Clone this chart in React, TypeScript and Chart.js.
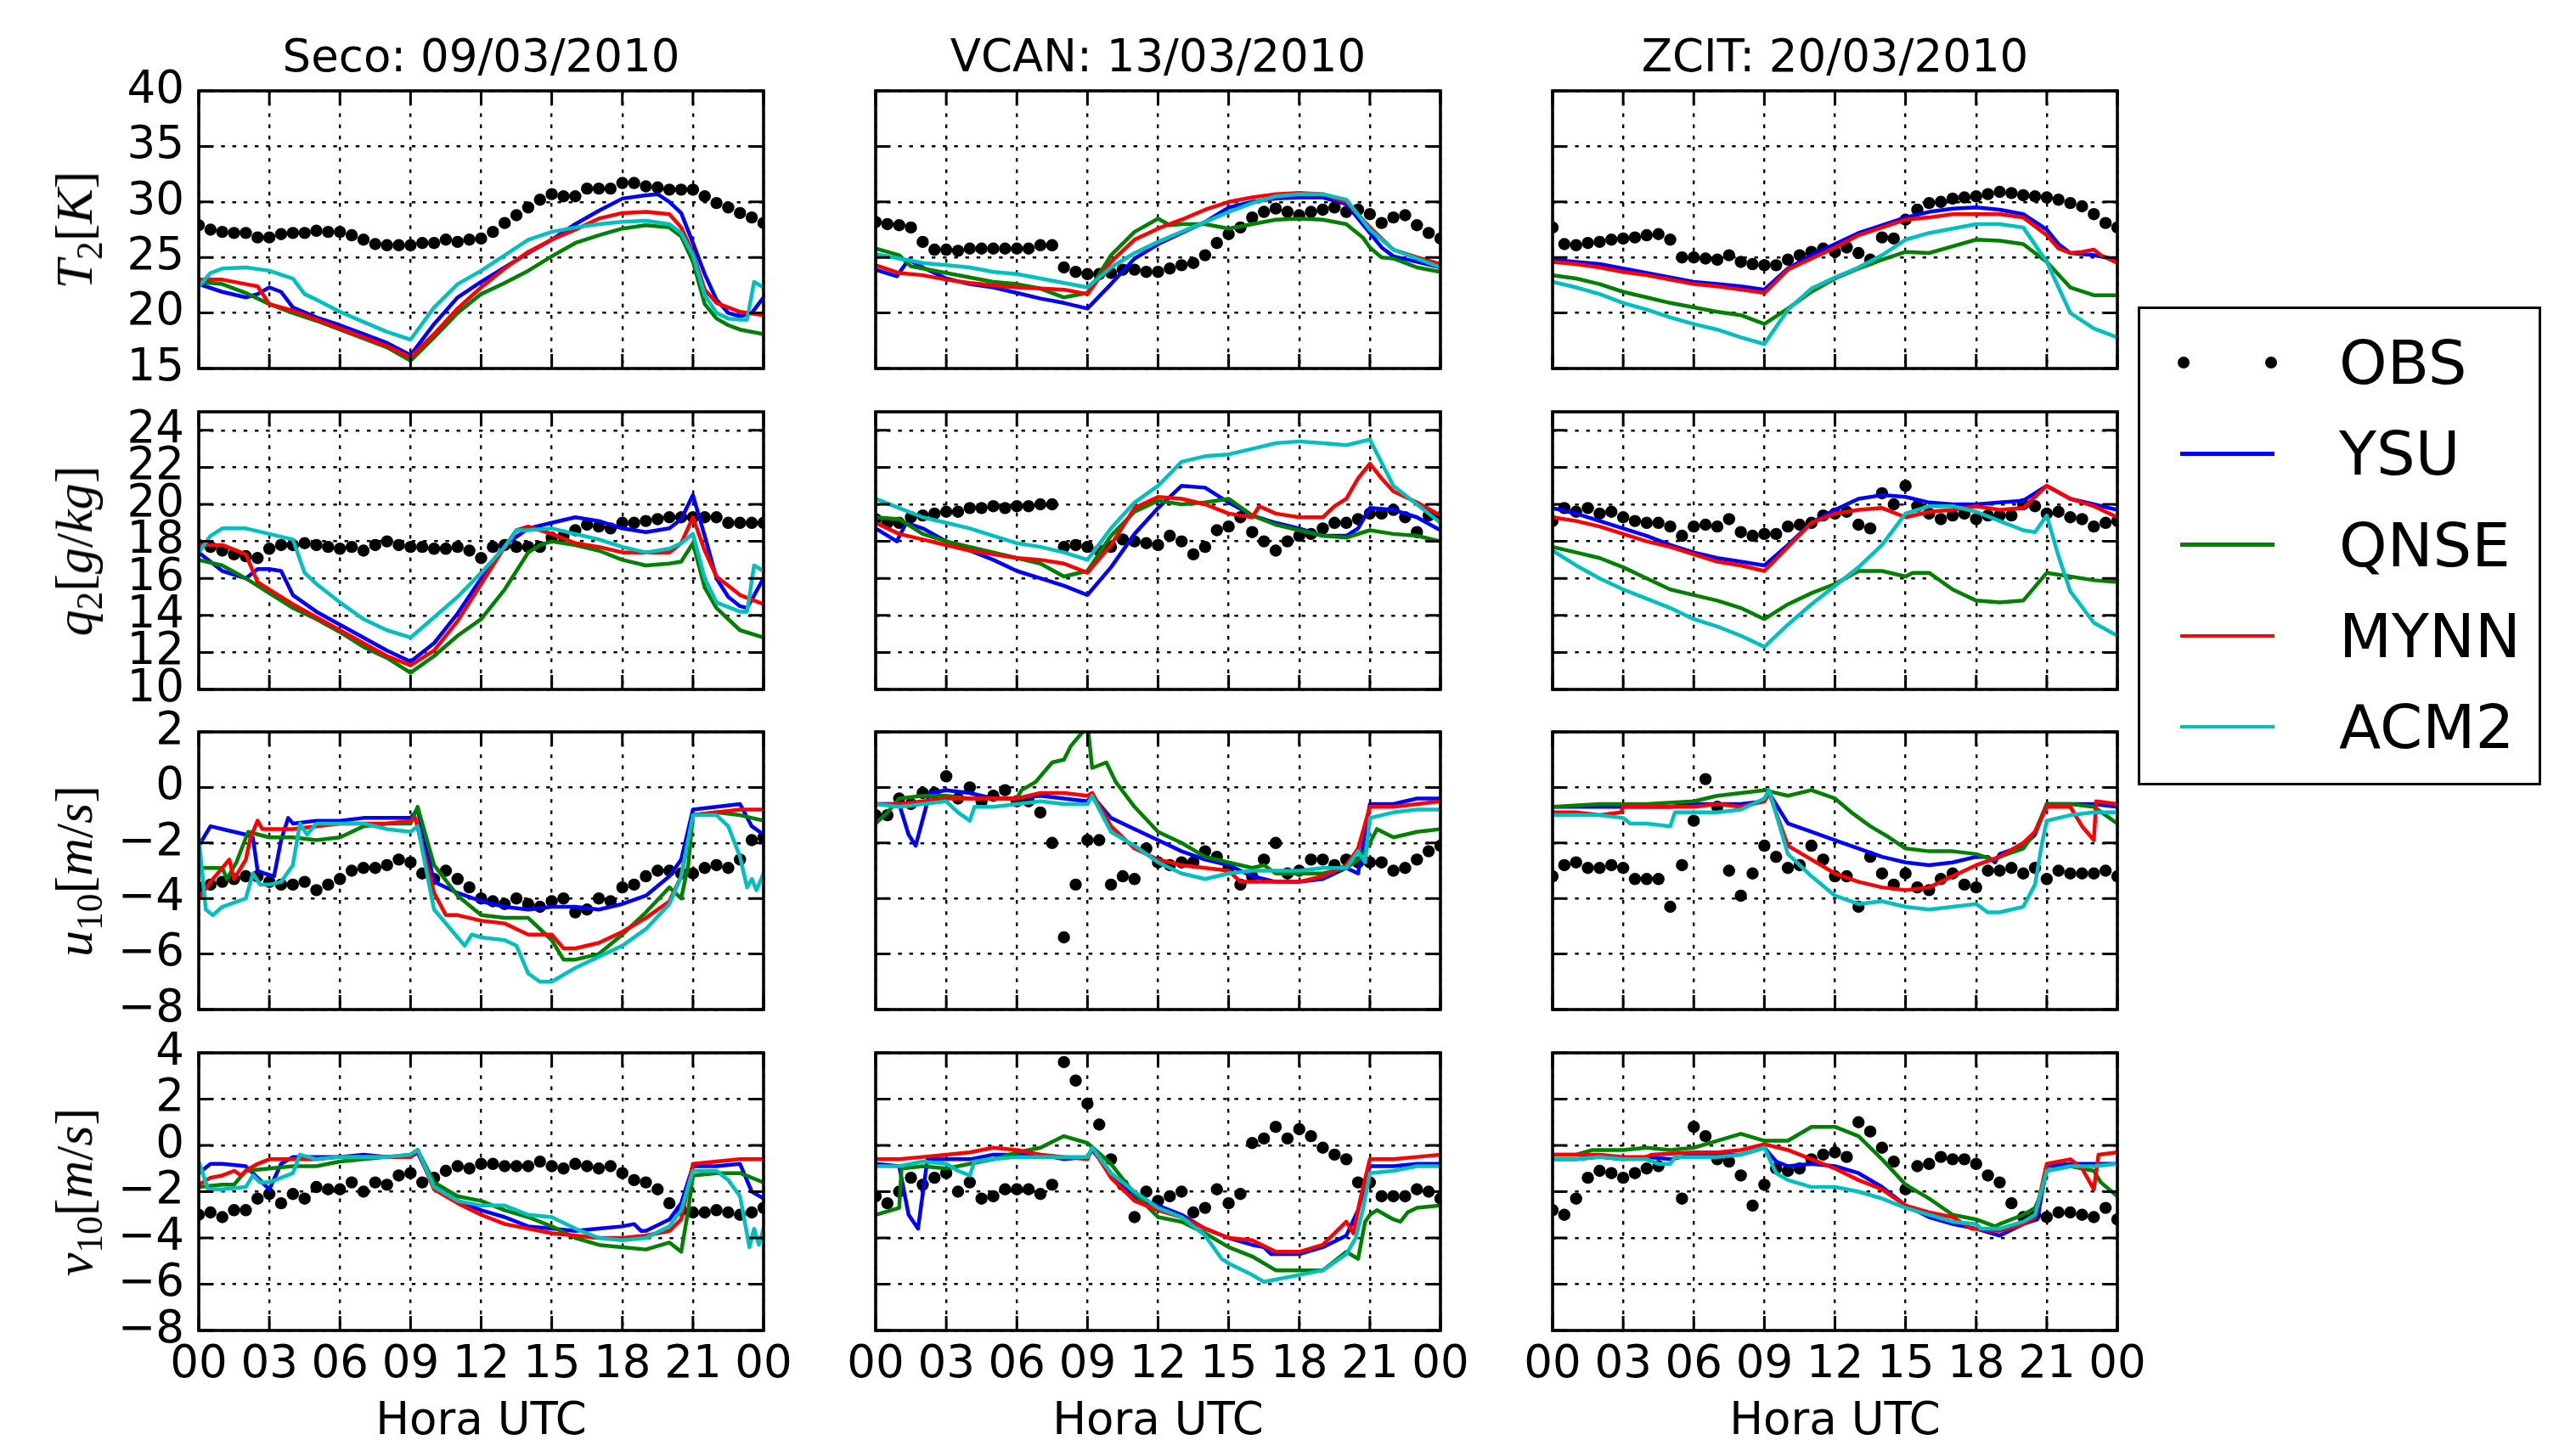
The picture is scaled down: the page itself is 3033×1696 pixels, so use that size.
import React, { useEffect, useRef } from "react";
import { Chart, registerables } from "chart.js";

Chart.register(...registerables);

// ---------------- data ----------------
const OBS_HOURS = [0,0.5,1,1.5,2,2.5,3,3.5,4,4.5,5,5.5,6,6.5,7,7.5,8,8.5,9,9.5,10,10.5,11,11.5,12,12.5,13,13.5,14,14.5,15,15.5,16,16.5,17,17.5,18,18.5,19,19.5,20,20.5,21,21.5,22,22.5,23,23.5,24];
const X_TICKS = [0,3,6,9,12,15,18,21,24];
const X_TICK_LABELS = ["00","03","06","09","12","15","18","21","00"];
const T2_TICKS = [15,20,25,30,35,40];
const Q2_TICKS = [10,12,14,16,18,20,22,24];
const U10_TICKS = [-8,-6,-4,-2,0,2];
const V10_TICKS = [-8,-6,-4,-2,0,2,4];
const CASE_TITLES = ["Seco: 09/03/2010","VCAN: 13/03/2010","ZCIT: 20/03/2010"];
const X_TITLE = "Hora UTC";
const SERIES_NAMES = ["OBS","YSU","QNSE","MYNN","ACM2"];
const SERIES_COLORS = ["#000000","#0000ff","#008000","#ff0000","#00bfbf"];
const VAR_SYMBOLS = ["T","q","u","v"];
const VAR_SUBS = ["2","2","10","10"];
const VAR_UNITS = ["K","g/kg","m/s","m/s"];

type Pair = [number, number];

// ---- T2 ----
const SECO_T2_OBS = [27.9,27.5,27.3,27.2,27.2,26.8,26.8,27.1,27.2,27.2,27.4,27.3,27.3,27.0,26.6,26.2,26.1,26.1,26.1,26.3,26.3,26.6,26.4,26.6,26.7,27.3,28.1,28.8,29.5,30.2,30.7,30.5,30.5,31.2,31.2,31.2,31.7,31.7,31.4,31.3,31.1,31.1,31.1,30.5,29.9,29.5,29.0,28.6,28.1];
const SECO_T2_YSU: Pair[] = [[0,22.6],[1,21.9],[2,21.4],[2.5,21.7],[3,22.3],[3.5,21.9],[4,20.5],[5,19.6],[6,18.9],[7,18.1],[8,17.3],[9,16.2],[10,19.0],[11,21.4],[12,22.8],[13,24.1],[14,25.4],[15,26.6],[16,28.0],[17,29.2],[18,30.3],[19,30.6],[19.5,30.7],[20,30.0],[20.5,29.0],[21,26.3],[21.5,23.5],[22,21.2],[22.5,20.0],[23,19.7],[23.5,20.0],[24,21.4]];
const SECO_T2_QNSE: Pair[] = [[0,22.8],[1,22.6],[2,21.8],[3,20.8],[4,20.0],[5,19.3],[6,18.5],[7,17.7],[8,16.9],[9,15.7],[10,17.8],[11,20.0],[12,21.7],[13,22.7],[14,23.8],[15,25.1],[16,26.3],[17,27.0],[18,27.6],[19,27.9],[20,27.7],[20.5,26.9],[21,24.6],[21.5,20.8],[22,19.5],[22.5,18.9],[23,18.5],[24,18.1]];
const SECO_T2_MYNN: Pair[] = [[0,23.0],[1,23.0],[2,22.6],[2.5,22.4],[3,20.8],[4,20.2],[5,19.4],[6,18.6],[7,17.8],[8,17.0],[9,16.0],[10,18.1],[11,20.4],[12,22.3],[13,24.0],[14,25.5],[15,26.6],[16,27.5],[17,28.5],[18,29.0],[19,29.1],[20,28.9],[20.5,27.7],[21,25.4],[21.5,22.1],[22,20.9],[22.5,20.5],[23,20.1],[24,19.8]];
const SECO_T2_ACM2: Pair[] = [[0,22.4],[0.5,23.6],[1,24.0],[2,24.1],[3,23.8],[4,23.1],[4.5,21.7],[5,21.2],[6,20.1],[7,19.2],[8,18.3],[9,17.6],[10,20.5],[11,22.6],[12,23.8],[13,25.2],[14,26.6],[15,27.3],[16,27.7],[17,28.0],[18,28.2],[19,28.3],[20,28.0],[20.5,27.2],[21,25.2],[21.5,21.6],[22,20.0],[22.5,19.5],[23,19.4],[23.3,19.4],[23.6,22.8],[24,22.3]];

const VCAN_T2_OBS = [28.2,28.0,27.9,27.7,26.4,25.7,25.7,25.6,25.8,25.8,25.8,25.8,25.8,25.8,26.1,26.1,24.1,23.7,23.5,23.5,23.6,23.9,23.9,23.7,23.7,24.0,24.3,24.5,25.2,26.3,27.1,27.7,28.6,29.1,29.4,29.1,28.8,29.1,29.3,29.5,29.1,29.3,28.9,28.1,28.6,28.8,27.9,27.2,26.7];
const VCAN_T2_YSU: Pair[] = [[0,23.9],[0.9,23.3],[1.4,24.8],[2,24.1],[3,23.1],[4,22.6],[5,22.3],[6,21.8],[7,21.3],[8,20.9],[9,20.4],[10,22.6],[11,24.9],[12,26.2],[13,27.2],[14,28.2],[15,29.5],[16,30.0],[17,30.3],[18,30.4],[19,30.4],[20,29.8],[21,27.2],[21.5,25.9],[22,25.1],[23,24.6],[24,24.1]];
const VCAN_T2_QNSE: Pair[] = [[0,25.8],[1,25.2],[1.5,24.2],[2,24.0],[3,23.6],[4,23.2],[5,22.8],[6,22.6],[7,22.2],[8,21.4],[9,21.8],[10,25.2],[11,27.3],[12,28.5],[12.5,27.9],[13,28.0],[14,28.0],[15,27.6],[16,28.0],[17,28.4],[18,28.5],[19,28.4],[20,28.0],[20.7,26.8],[21,25.9],[21.5,25.0],[22,24.9],[23,24.1],[24,23.7]];
const VCAN_T2_MYNN: Pair[] = [[0,24.3],[1,23.6],[2,23.4],[3,23.0],[4,22.7],[5,22.5],[6,22.3],[7,22.2],[8,22.1],[9,21.7],[10,24.6],[11,26.6],[12,27.6],[13,28.4],[14,29.3],[15,30.0],[16,30.4],[17,30.7],[18,30.8],[19,30.7],[20,30.0],[21,27.7],[22,25.7],[23,25.0],[24,24.4]];
const VCAN_T2_ACM2: Pair[] = [[0,25.3],[1,24.9],[2,24.5],[3,24.3],[4,24.1],[5,23.7],[6,23.5],[7,23.1],[8,22.7],[9,22.3],[10,24.1],[11,25.4],[12,26.4],[13,27.3],[14,28.2],[15,29.1],[16,29.9],[17,30.5],[18,30.7],[19,30.7],[20,30.2],[21,27.5],[22,25.7],[23,24.9],[24,24.1]];

const ZCIT_T2_OBS = [27.7,26.2,26.1,26.3,26.4,26.6,26.7,26.8,27.0,27.1,26.6,25.0,25.0,24.9,24.8,25.2,24.6,24.4,24.3,24.3,24.8,25.2,25.5,25.8,25.5,25.9,25.4,24.8,26.8,26.7,28.4,29.3,29.9,30.0,30.3,30.4,30.5,30.7,30.9,30.8,30.6,30.5,30.4,30.2,29.9,29.6,28.9,28.1,27.7];
const ZCIT_T2_YSU: Pair[] = [[0,24.8],[1,24.6],[2,24.4],[3,24.0],[4,23.6],[5,23.2],[6,22.8],[7,22.6],[8,22.4],[9,22.1],[10,24.0],[11,25.2],[12,26.2],[13,27.2],[14,27.9],[15,28.6],[16,29.1],[17,29.4],[18,29.5],[19,29.3],[20,28.9],[21,27.5],[21.5,26.2],[22,25.4],[23,25.2],[24,24.8]];
const ZCIT_T2_QNSE: Pair[] = [[0,23.4],[1,23.1],[2,22.6],[3,21.9],[4,21.4],[5,20.9],[6,20.5],[7,20.1],[8,19.8],[9,19.0],[10,20.4],[11,21.9],[12,23.1],[13,24.0],[14,24.8],[15,25.5],[16,25.4],[17,26.0],[18,26.6],[19,26.5],[20,26.2],[21,24.6],[22,22.3],[23,21.6],[24,21.6]];
const ZCIT_T2_MYNN: Pair[] = [[0,24.6],[1,24.4],[2,24.1],[3,23.7],[4,23.4],[5,23.0],[6,22.6],[7,22.4],[8,22.1],[9,21.8],[10,23.9],[11,24.9],[12,25.9],[13,27.0],[14,27.7],[15,28.4],[16,28.6],[17,28.9],[18,28.9],[19,28.9],[20,28.6],[21,27.0],[21.5,25.8],[22,25.4],[22.5,25.5],[23,25.7],[23.3,25.2],[24,24.5]];
const ZCIT_T2_ACM2: Pair[] = [[0,22.8],[1,22.3],[2,21.7],[3,20.9],[4,20.3],[5,19.6],[6,19.0],[7,18.5],[8,17.8],[9,17.2],[10,20.3],[11,22.2],[12,23.2],[13,24.1],[14,25.2],[15,26.6],[16,27.2],[17,27.6],[18,28.0],[19,28.0],[20,27.7],[21,24.6],[21.5,22.3],[22,20.0],[23,18.6],[24,17.8]];

// ---- q2 ----
const SECO_Q2_OBS = [17.8,17.7,17.5,17.3,17.2,17.1,17.6,17.8,17.8,17.9,17.8,17.7,17.6,17.7,17.5,17.8,18.0,17.8,17.7,17.7,17.6,17.6,17.7,17.5,17.1,17.7,17.8,17.7,17.7,17.7,18.2,18.3,18.6,18.9,18.8,18.7,19.0,19.0,19.1,19.2,19.3,19.3,19.3,19.3,19.3,19.0,19.0,19.0,19.0];
const SECO_Q2_YSU: Pair[] = [[0,17.4],[1,16.4],[2,16.0],[2.5,16.5],[3,16.5],[3.5,16.4],[4,15.1],[5,14.2],[6,13.5],[7,12.8],[8,12.1],[9,11.5],[10,12.5],[11,14.1],[12,16.0],[13,17.8],[14,18.7],[15,19.0],[16,19.3],[17,19.1],[18,18.7],[19,18.5],[20,18.7],[20.5,19.2],[21,20.5],[21.5,18.3],[22,16.0],[22.5,15.0],[23,14.5],[23.3,14.4],[24,16.0]];
const SECO_Q2_QNSE: Pair[] = [[0,17.0],[1,16.7],[2,16.0],[3,15.2],[4,14.4],[5,13.8],[6,13.1],[7,12.3],[8,11.7],[9,10.9],[10,11.8],[11,12.9],[12,13.8],[13,15.4],[14,17.4],[14.5,17.8],[15,18.0],[16,17.8],[17,17.5],[18,17.0],[19,16.7],[20,16.8],[20.5,16.9],[21,17.9],[21.5,15.5],[22,14.4],[23,13.2],[24,12.8]];
const SECO_Q2_MYNN: Pair[] = [[0,17.8],[1,17.8],[2,17.3],[2.5,15.8],[3,15.4],[4,14.6],[5,13.9],[6,13.2],[7,12.5],[8,11.8],[9,11.3],[10,12.1],[11,13.7],[12,15.7],[13,17.7],[13.5,18.6],[14,18.8],[15,18.4],[16,17.9],[17,17.7],[18,17.4],[19,17.4],[20,17.4],[20.5,17.9],[21,19.3],[21.5,17.5],[22,16.1],[23,15.1],[24,14.6]];
const SECO_Q2_ACM2: Pair[] = [[0,17.4],[0.5,18.3],[1,18.7],[2,18.7],[3,18.4],[4,18.1],[4.5,16.3],[5,15.7],[6,14.7],[7,13.8],[8,13.2],[9,12.8],[10,13.9],[11,15.0],[12,16.3],[13,17.7],[13.5,18.6],[14,18.6],[15,18.7],[16,18.4],[17,18.1],[18,17.7],[19,17.4],[20,17.6],[20.5,17.9],[21,18.4],[21.5,16.0],[22,14.7],[23,14.2],[23.3,14.2],[23.6,16.7],[24,16.4]];

const VCAN_Q2_OBS = [19.2,19.0,19.0,19.3,19.4,19.5,19.6,19.6,19.8,19.8,19.9,19.8,19.9,19.9,20.0,20.0,17.7,17.8,17.7,17.5,17.7,18.1,18.0,17.9,17.8,18.3,18.0,17.3,17.7,18.6,18.8,19.3,18.5,18.0,17.5,18.0,18.3,18.4,18.7,19.0,19.0,19.2,19.5,19.5,19.7,19.3,18.5,19.4,19.3];
const VCAN_Q2_YSU: Pair[] = [[0,18.7],[0.9,18.0],[1.3,19.0],[2,18.7],[3,18.0],[4,17.5],[5,17.0],[6,16.4],[7,16.0],[8,15.6],[9,15.1],[10,16.6],[11,18.4],[12,19.8],[13,21.0],[14,20.9],[15,20.1],[16,19.4],[17,19.0],[18,18.7],[19,18.3],[20,18.3],[20.5,18.7],[21,19.8],[22,19.7],[23,19.3],[24,18.6]];
const VCAN_Q2_QNSE: Pair[] = [[0,19.3],[1,19.2],[2,18.4],[3,18.0],[4,17.7],[5,17.4],[6,17.1],[7,16.8],[8,16.1],[9,16.4],[10,18.3],[11,19.6],[12,20.2],[13,20.0],[14,20.1],[15,20.3],[16,19.4],[17,18.9],[18,18.6],[19,18.3],[20,18.2],[21,18.6],[22,18.4],[23,18.3],[24,18.0]];
const VCAN_Q2_MYNN: Pair[] = [[0,19.0],[1,18.4],[2,18.1],[3,17.8],[4,17.5],[5,17.3],[6,17.1],[7,17.0],[8,16.8],[9,16.3],[10,17.8],[11,19.8],[12,20.4],[13,20.3],[14,20.0],[15,19.5],[16,19.3],[16.3,19.9],[17,19.5],[18,19.3],[19,19.3],[19.5,19.9],[20,20.3],[20.5,21.4],[21,22.2],[21.5,21.4],[22,20.7],[23,20.1],[24,19.4]];
const VCAN_Q2_ACM2: Pair[] = [[0,20.3],[1,19.8],[2,19.3],[3,19.0],[4,18.7],[5,18.3],[6,17.9],[7,17.7],[8,17.4],[9,17.0],[10,18.7],[11,20.1],[12,21.0],[13,22.3],[14,22.6],[15,22.7],[16,23.0],[17,23.3],[18,23.4],[19,23.3],[20,23.2],[21,23.5],[22,21.0],[23,20.0],[24,19.0]];

const ZCIT_Q2_OBS = [19.1,19.8,19.6,19.8,19.5,19.6,19.3,19.1,19.0,19.0,18.8,18.3,18.8,18.9,18.8,19.2,18.5,18.3,18.4,18.4,18.8,18.9,19.0,19.4,19.5,19.6,18.9,18.7,20.6,20.0,21.0,19.9,19.5,19.2,19.4,19.5,19.2,19.4,19.4,19.4,20.0,19.9,19.5,19.6,19.3,19.2,18.8,19.0,19.1];
const ZCIT_Q2_YSU: Pair[] = [[0,19.8],[1,19.5],[2,19.1],[3,18.7],[4,18.3],[5,17.8],[6,17.4],[7,17.1],[8,16.9],[9,16.7],[10,17.8],[11,19.0],[12,19.7],[13,20.3],[14,20.5],[15,20.4],[16,20.1],[17,20.0],[18,20.0],[19,20.1],[20,20.2],[21,21.0],[22,20.3],[23,20.0],[24,19.7]];
const ZCIT_Q2_QNSE: Pair[] = [[0,17.7],[1,17.4],[2,17.1],[3,16.6],[4,16.0],[5,15.4],[6,15.1],[7,14.8],[8,14.4],[9,13.8],[10,14.6],[11,15.2],[12,15.7],[13,16.4],[14,16.4],[15,16.1],[15.3,16.3],[16,16.3],[17,15.4],[18,14.8],[19,14.7],[20,14.8],[21,16.3],[22,16.1],[23,15.9],[24,15.8]];
const ZCIT_Q2_MYNN: Pair[] = [[0,19.3],[1,19.1],[2,18.8],[3,18.4],[4,18.0],[5,17.7],[6,17.3],[7,16.9],[8,16.7],[9,16.4],[10,17.7],[11,19.0],[12,19.5],[13,19.7],[14,19.8],[15,19.3],[16,19.6],[17,19.7],[18,19.9],[19,19.7],[20,19.8],[21,21.0],[22,20.3],[23,19.9],[24,19.3]];
const ZCIT_Q2_ACM2: Pair[] = [[0,17.5],[1,16.7],[2,16.0],[3,15.4],[4,14.9],[5,14.4],[6,13.8],[7,13.4],[8,12.9],[9,12.3],[10,13.5],[11,14.6],[12,15.6],[13,16.6],[14,17.8],[15,19.5],[16,19.9],[17,19.9],[18,19.6],[19,19.1],[20,18.6],[20.5,18.5],[21,19.4],[21.5,17.2],[22,15.3],[23,13.6],[24,12.9]];

// ---- u10 ----
const SECO_U10_OBS = [-3.6,-3.5,-3.4,-3.3,-3.2,-3.2,-3.4,-3.5,-3.5,-3.4,-3.7,-3.5,-3.3,-3.0,-2.9,-2.9,-2.8,-2.6,-2.7,-3.1,-3.3,-3.0,-3.3,-3.6,-4.0,-4.1,-4.2,-4.0,-4.2,-4.3,-4.1,-4.0,-4.5,-4.4,-4.0,-4.1,-3.6,-3.5,-3.2,-3.0,-3.0,-3.1,-3.1,-2.9,-2.8,-2.9,-2.6,-1.9,-1.8];
const SECO_U10_YSU: Pair[] = [[0,-2.1],[0.5,-1.4],[1,-1.5],[1.5,-1.6],[2,-1.7],[2.3,-1.8],[2.5,-3.0],[2.8,-3.1],[3.2,-3.2],[3.5,-1.9],[3.8,-1.1],[4,-1.3],[5,-1.2],[6,-1.2],[7,-1.1],[8,-1.1],[9,-1.1],[9.3,-0.8],[10,-3.4],[11,-3.8],[12,-4.1],[13,-4.3],[14,-4.4],[15,-4.3],[16,-4.3],[17,-4.4],[18,-4.2],[19,-3.9],[20,-3.2],[20.5,-2.6],[21,-0.8],[22,-0.7],[23,-0.6],[23.5,-1.4],[24,-1.7]];
const SECO_U10_QNSE: Pair[] = [[0,-2.9],[1,-2.9],[1.2,-3.3],[1.6,-2.7],[2.1,-1.6],[3,-1.8],[4,-1.8],[5,-1.9],[6,-1.8],[7,-1.4],[8,-1.3],[9,-1.3],[9.3,-0.7],[10,-2.8],[11,-3.9],[12,-4.6],[13,-4.7],[14,-4.7],[15,-5.5],[15.5,-6.2],[16,-6.2],[17,-6.0],[18,-5.3],[19,-4.5],[20,-3.6],[20.5,-4.0],[20.8,-2.8],[21,-1.0],[22,-0.9],[23,-1.0],[24,-1.2]];
const SECO_U10_MYNN: Pair[] = [[0,-4.0],[0.5,-3.4],[1,-2.9],[1.3,-2.6],[1.5,-3.3],[2,-2.6],[2.2,-1.8],[2.5,-1.2],[2.7,-1.5],[3,-1.5],[4,-1.5],[5,-1.4],[6,-1.3],[7,-1.3],[8,-1.3],[9,-1.2],[9.2,-1.1],[10,-3.8],[10.5,-4.6],[11,-4.6],[12,-4.8],[13,-4.9],[13.5,-5.1],[14,-5.3],[15,-5.3],[15.5,-5.8],[16,-5.8],[17,-5.6],[18,-5.2],[19,-4.7],[20,-4.1],[20.5,-3.2],[21,-1.0],[22,-0.9],[23,-0.8],[24,-0.8]];
const SECO_U10_ACM2: Pair[] = [[0,-1.8],[0.3,-4.4],[0.6,-4.6],[1,-4.3],[2,-4.0],[2.3,-3.1],[2.6,-3.5],[3,-3.5],[3.5,-3.4],[4,-2.8],[4.3,-1.3],[4.6,-1.7],[5,-1.3],[6,-1.3],[7,-1.3],[8,-1.5],[9,-1.6],[9.3,-1.4],[10,-4.4],[11,-5.4],[11.3,-5.7],[11.6,-5.3],[12,-5.4],[13,-5.5],[13.5,-5.7],[14,-6.7],[14.5,-7.0],[15,-7.0],[16,-6.5],[17,-6.1],[18,-5.7],[19,-5.1],[20,-4.2],[20.5,-3.2],[21,-1.0],[22,-1.0],[22.5,-1.4],[23,-2.5],[23.3,-3.6],[23.5,-3.3],[23.7,-3.7],[24,-3.1]];

const VCAN_U10_OBS = [-1.0,-1.0,-0.4,-0.6,-0.2,-0.2,0.4,-0.4,0.0,-0.5,-0.3,-0.1,-0.5,-0.5,-0.9,-2.0,-5.4,-3.5,-1.9,-1.9,-3.5,-3.2,-3.3,-2.2,-2.7,-2.8,-2.7,-2.7,-2.3,-2.5,-2.9,-3.5,-3.2,-2.6,-2.0,-3.1,-3.0,-2.6,-2.6,-2.8,-2.6,-2.7,-2.7,-2.7,-3.0,-2.9,-2.6,-2.3,-2.1];
const VCAN_U10_YSU: Pair[] = [[0,-0.6],[1,-0.6],[1.4,-1.7],[1.7,-2.1],[2.3,-0.2],[3,-0.1],[4,-0.2],[5,-0.4],[6,-0.4],[7,-0.3],[8,-0.4],[9,-0.5],[9.2,-0.3],[10,-1.1],[11,-1.5],[12,-1.9],[13,-2.3],[14,-2.6],[15,-2.8],[16,-3.2],[17,-3.4],[18,-3.4],[19,-3.3],[20,-2.9],[20.5,-3.1],[21,-0.6],[22,-0.6],[23,-0.4],[24,-0.4]];
const VCAN_U10_QNSE: Pair[] = [[0,-1.3],[0.5,-0.9],[1,-0.4],[2,-0.3],[3,-0.3],[4,-0.4],[5,-0.4],[6,-0.4],[6.2,-0.1],[6.8,0.2],[7.5,0.9],[8,1.0],[8.3,1.5],[8.8,2.0],[9.0,2.3],[9.2,0.7],[9.8,0.9],[10.2,0.2],[11,-0.7],[12,-1.6],[13,-2.0],[14,-2.5],[15,-2.7],[16,-2.9],[16.5,-2.8],[17,-3.1],[18,-3.1],[19,-3.1],[20,-2.9],[20.5,-2.6],[21,-2.0],[21.3,-1.5],[22,-1.8],[23,-1.6],[24,-1.5]];
const VCAN_U10_MYNN: Pair[] = [[0,-0.6],[1,-0.6],[2,-0.5],[3,-0.4],[4,-0.4],[5,-0.4],[6,-0.4],[7,-0.2],[8,-0.2],[9,-0.3],[9.2,-0.2],[10,-1.4],[11,-2.2],[12,-2.6],[13,-2.8],[14,-2.9],[15,-3.0],[15.5,-3.4],[16,-3.4],[17,-3.4],[18,-3.4],[19,-3.2],[20,-2.8],[20.5,-2.2],[21,-0.7],[22,-0.7],[23,-0.6],[24,-0.5]];
const VCAN_U10_ACM2: Pair[] = [[0,-0.6],[1,-0.7],[2,-0.6],[3,-0.5],[3.5,-0.9],[4,-1.2],[4.2,-0.7],[5,-0.7],[6,-0.6],[7,-0.5],[8,-0.6],[9,-0.6],[9.2,-0.3],[10,-1.6],[11,-2.1],[12,-2.7],[13,-3.1],[14,-3.3],[15,-3.1],[16,-3.0],[17,-3.0],[18,-3.0],[19,-2.9],[20,-2.9],[20.5,-2.3],[20.8,-2.7],[21,-1.1],[22,-0.9],[23,-0.8],[24,-0.8]];

const ZCIT_U10_OBS = [-3.2,-2.8,-2.7,-2.9,-2.9,-2.8,-2.9,-3.3,-3.3,-3.3,-4.3,-2.8,-1.2,0.3,-0.7,-3.0,-3.9,-3.1,-2.1,-2.5,-2.9,-2.8,-2.1,-2.6,-3.2,-3.2,-4.3,-2.5,-3.1,-3.5,-3.1,-3.6,-3.7,-3.3,-3.1,-3.5,-3.6,-3.0,-3.0,-2.9,-3.1,-2.9,-3.3,-3.0,-3.1,-3.1,-3.1,-3.0,-3.2];
const ZCIT_U10_YSU: Pair[] = [[0,-0.7],[1,-0.7],[2,-0.7],[3,-0.7],[4,-0.7],[5,-0.7],[6,-0.6],[7,-0.6],[8,-0.6],[9,-0.5],[9.2,-0.2],[10,-1.3],[11,-1.6],[12,-1.9],[13,-2.2],[14,-2.5],[15,-2.7],[16,-2.8],[17,-2.7],[18,-2.5],[18.5,-2.5],[18.8,-2.7],[19,-2.4],[20,-2.1],[20.5,-1.7],[21,-0.6],[22,-0.6],[23,-0.6],[24,-0.7]];
const ZCIT_U10_QNSE: Pair[] = [[0,-0.7],[2,-0.6],[4,-0.6],[6,-0.5],[7,-0.3],[8,-0.2],[9,-0.1],[10,-0.3],[11,-0.1],[12,-0.4],[12.7,-0.9],[13.5,-1.4],[14.3,-1.8],[15,-2.2],[16,-2.3],[17,-2.3],[18,-2.4],[18.7,-2.6],[19,-2.5],[20,-2.2],[20.5,-1.6],[21,-0.6],[22,-0.6],[23,-0.7],[23.5,-1.0],[24,-1.3]];
const ZCIT_U10_MYNN: Pair[] = [[0,-0.9],[1,-0.9],[2,-1.0],[2.9,-0.9],[3,-0.7],[4,-0.7],[5,-0.7],[6,-0.7],[7,-0.6],[8,-0.7],[9,-0.5],[9.2,-0.2],[10,-2.1],[11,-2.6],[12,-3.1],[13,-3.4],[14,-3.6],[15,-3.7],[16,-3.6],[17,-3.2],[18,-2.8],[19,-2.5],[20,-2.0],[20.5,-1.6],[21,-0.7],[22,-0.7],[22.5,-1.4],[23,-1.9],[23.1,-0.5],[24,-0.6]];
const ZCIT_U10_ACM2: Pair[] = [[0,-1.0],[1,-1.0],[2,-1.0],[3,-1.1],[3.3,-1.3],[4,-1.3],[5,-1.4],[5.2,-0.9],[6,-0.9],[7,-0.9],[8,-0.8],[9,-0.4],[9.2,-0.1],[10,-2.4],[10.5,-2.8],[11,-3.2],[12,-3.9],[13,-4.2],[14,-4.1],[15,-4.3],[16,-4.4],[17,-4.3],[18,-4.2],[18.5,-4.5],[19,-4.5],[20,-4.3],[20.5,-3.5],[20.8,-2.0],[21,-1.2],[22,-1.0],[23,-0.9],[24,-0.9]];

// ---- v10 ----
const SECO_V10_OBS = [-3.0,-2.9,-3.1,-2.8,-2.8,-2.3,-2.1,-2.5,-2.1,-2.3,-1.8,-1.9,-1.9,-1.6,-2.0,-1.6,-1.7,-1.3,-1.2,-1.6,-1.4,-1.1,-0.9,-1.0,-0.8,-0.8,-0.9,-0.9,-0.9,-0.7,-0.9,-1.0,-0.8,-0.9,-1.0,-0.9,-1.2,-1.5,-1.6,-1.9,-2.5,-2.8,-2.9,-2.9,-2.8,-2.9,-3.0,-2.9,-2.7];
const SECO_V10_YSU: Pair[] = [[0,-1.2],[0.5,-0.8],[1,-0.8],[2,-0.9],[2.5,-1.4],[3,-1.9],[3.5,-0.8],[4,-0.5],[5,-0.5],[6,-0.5],[7,-0.4],[8,-0.5],[9,-0.5],[9.3,-0.3],[10,-1.8],[11,-2.4],[12,-2.8],[13,-3.1],[14,-3.5],[15,-3.6],[16,-3.7],[17,-3.6],[18,-3.5],[18.5,-3.4],[18.8,-3.7],[19,-3.7],[20,-3.2],[20.5,-2.5],[21,-0.9],[22,-0.9],[23,-0.8],[23.5,-2.0],[24,-2.3]];
const SECO_V10_QNSE: Pair[] = [[0,-1.8],[1,-1.7],[1.5,-1.7],[2,-1.1],[3,-1.0],[4,-0.9],[5,-0.9],[6,-0.7],[7,-0.6],[8,-0.5],[9,-0.4],[9.3,-0.2],[10,-1.6],[11,-2.2],[12,-2.4],[13,-2.8],[14,-3.1],[15,-3.5],[16,-4.0],[17,-4.3],[18,-4.4],[19,-4.5],[20,-4.2],[20.5,-4.6],[20.8,-2.8],[21,-1.3],[22,-1.2],[23,-1.2],[24,-1.6]];
const SECO_V10_MYNN: Pair[] = [[0,-1.7],[0.5,-1.4],[1,-1.3],[1.5,-1.1],[1.8,-1.3],[2,-1.1],[2.5,-0.8],[3,-0.6],[4,-0.6],[5,-0.6],[6,-0.5],[7,-0.5],[8,-0.5],[9,-0.5],[9.3,-0.2],[10,-1.9],[11,-2.5],[12,-3.0],[13,-3.4],[14,-3.6],[15,-3.8],[16,-3.9],[17,-4.0],[18,-4.0],[19,-3.9],[20,-3.7],[20.5,-3.2],[21,-0.8],[22,-0.7],[23,-0.6],[24,-0.6]];
const SECO_V10_ACM2: Pair[] = [[0,-0.7],[0.4,-1.9],[1,-1.9],[2,-1.8],[2.3,-1.3],[2.6,-1.6],[3,-1.6],[4,-1.2],[4.3,-0.4],[5,-0.6],[6,-0.5],[7,-0.5],[8,-0.5],[9,-0.4],[9.3,-0.2],[10,-1.8],[11,-2.4],[12,-2.6],[13,-2.6],[14,-3.0],[15,-3.1],[16,-3.6],[17,-4.0],[18,-4.1],[19,-4.0],[20,-3.5],[20.5,-2.8],[21,-1.1],[22,-1.1],[22.5,-1.5],[23,-2.2],[23.4,-4.4],[23.6,-3.6],[23.8,-4.3],[24,-3.6]];

const VCAN_V10_OBS = [-2.2,-2.5,-2.0,-1.4,-1.7,-1.4,-1.2,-2.0,-1.6,-2.3,-2.2,-1.9,-1.9,-1.9,-2.1,-1.7,3.6,2.8,1.8,0.9,-0.6,-1.7,-3.1,-2.0,-2.4,-2.2,-2.0,-2.9,-2.7,-1.9,-2.5,-2.1,0.1,0.3,0.8,0.3,0.7,0.4,-0.1,-0.4,-0.6,-1.6,-1.6,-2.2,-2.2,-2.2,-1.9,-2.0,-2.3];
const VCAN_V10_YSU: Pair[] = [[0,-0.8],[1,-0.9],[1.4,-3.0],[1.8,-3.6],[2.2,-0.6],[3,-0.6],[4,-0.6],[5,-0.4],[6,-0.4],[7,-0.4],[8,-0.6],[9,-0.5],[9.2,-0.2],[10,-1.2],[11,-2.3],[12,-2.6],[13,-3.0],[14,-3.6],[15,-4.0],[16,-4.3],[16.5,-4.4],[16.8,-4.7],[18,-4.7],[19,-4.4],[20,-3.9],[20.5,-2.8],[21,-0.9],[22,-0.9],[23,-0.8],[24,-0.8]];
const VCAN_V10_QNSE: Pair[] = [[0,-3.0],[1,-2.7],[1.1,-1.0],[2,-0.9],[3,-1.0],[4,-0.8],[5,-0.6],[6,-0.3],[7,-0.1],[8,0.4],[9,0.1],[10,-0.8],[11,-2.1],[12,-3.1],[13,-3.3],[14,-3.8],[15,-4.4],[16,-4.8],[17,-5.4],[18,-5.4],[19,-5.4],[20,-4.6],[20.5,-4.9],[20.8,-3.3],[21,-3.0],[21.3,-2.8],[22,-3.2],[22.3,-3.3],[22.6,-2.9],[23,-2.7],[24,-2.6]];
const VCAN_V10_MYNN: Pair[] = [[0,-0.6],[1,-0.6],[2,-0.5],[3,-0.4],[4,-0.3],[5,-0.1],[6,-0.2],[7,-0.4],[8,-0.5],[9,-0.6],[9.2,-0.1],[10,-1.4],[11,-2.4],[12,-2.8],[13,-3.1],[14,-3.6],[15,-4.0],[16,-4.1],[17,-4.6],[18,-4.6],[19,-4.3],[20,-3.3],[20.3,-3.8],[20.6,-2.3],[21,-0.6],[22,-0.6],[23,-0.5],[24,-0.4]];
const VCAN_V10_ACM2: Pair[] = [[0,-0.9],[1,-0.9],[2,-0.7],[3,-0.8],[3.5,-1.1],[4,-1.3],[4.2,-0.7],[5,-0.6],[6,-0.5],[7,-0.5],[8,-0.5],[9,-0.5],[9.2,-0.1],[10,-1.2],[11,-2.0],[12,-2.7],[13,-3.1],[14,-3.9],[14.7,-4.9],[15,-5.1],[16,-5.6],[16.5,-5.9],[17,-5.8],[18,-5.6],[19,-5.4],[20,-4.7],[20.4,-4.0],[20.7,-2.8],[21,-1.2],[22,-1.1],[23,-0.9],[24,-0.9]];

const ZCIT_V10_OBS = [-2.8,-3.0,-2.3,-1.4,-1.1,-1.2,-1.4,-1.2,-1.0,-0.9,null,-2.3,0.8,0.4,-0.6,-0.7,-1.3,-2.6,-1.7,-1.0,-1.1,-1.0,-0.6,-0.4,-0.3,-0.5,1.0,0.6,-0.1,-0.7,-1.9,-0.9,-0.8,-0.5,-0.6,-0.6,-0.8,-1.3,-1.6,-2.5,-3.1,-3.0,-3.1,-2.9,-2.9,-3.0,-3.1,-2.7,-3.2];
const ZCIT_V10_YSU: Pair[] = [[0,-0.6],[1,-0.6],[2,-0.5],[3,-0.6],[4,-0.5],[5,-0.6],[6,-0.4],[7,-0.4],[8,-0.4],[9,-0.1],[9.5,-0.7],[10,-0.9],[11,-0.8],[12,-0.9],[13,-1.2],[14,-1.8],[15,-2.6],[16,-3.1],[17,-3.4],[18,-3.6],[19,-3.9],[20,-3.4],[20.6,-3.2],[21,-0.9],[22,-0.8],[23,-0.8],[24,-0.8]];
const ZCIT_V10_QNSE: Pair[] = [[0,-0.4],[1,-0.4],[1.7,-0.2],[3,-0.2],[4,-0.1],[5,-0.2],[6,-0.1],[7,0.2],[8,0.5],[9,0.2],[10,0.2],[11,0.8],[12,0.8],[13,0.4],[14,-0.6],[15,-1.7],[16,-2.3],[17,-3.0],[18,-3.2],[18.8,-3.5],[19,-3.4],[20,-3.0],[20.5,-2.7],[20.8,-2.0],[21,-1.1],[22,-0.9],[23,-1.1],[23.3,-1.6],[24,-2.2]];
const ZCIT_V10_MYNN: Pair[] = [[0,-0.4],[2,-0.4],[3,-0.5],[4,-0.5],[4.2,-0.4],[6,-0.3],[7,-0.3],[8,-0.2],[9,0.05],[10,-0.2],[11,-0.6],[12,-1.0],[13,-1.5],[14,-1.9],[15,-2.6],[16,-2.9],[17,-3.1],[17.8,-3.6],[19,-3.7],[20,-3.4],[20.5,-3.1],[21,-0.8],[22,-0.6],[22.5,-1.0],[23,-1.9],[23.2,-0.4],[24,-0.3]];
const ZCIT_V10_ACM2: Pair[] = [[0,-0.6],[1,-0.6],[2,-0.5],[3,-0.6],[4,-0.6],[4.5,-0.8],[5,-0.8],[5.2,-0.5],[6,-0.5],[7,-0.5],[8,-0.4],[9,-0.1],[9.5,-1.2],[10,-1.5],[11,-1.8],[12,-1.8],[13,-2.0],[14,-2.3],[15,-2.7],[16,-3.0],[17,-3.3],[18,-3.4],[18.2,-3.6],[19,-3.6],[20,-3.3],[20.5,-3.0],[21,-1.1],[22,-0.9],[23,-0.9],[24,-0.8]];

// -------------- assembly --------------
interface PanelData { obs: (number | null)[]; models: Pair[][] }
const PANELS: PanelData[][] = [
  [
    { obs: SECO_T2_OBS, models: [SECO_T2_YSU, SECO_T2_QNSE, SECO_T2_MYNN, SECO_T2_ACM2] },
    { obs: VCAN_T2_OBS, models: [VCAN_T2_YSU, VCAN_T2_QNSE, VCAN_T2_MYNN, VCAN_T2_ACM2] },
    { obs: ZCIT_T2_OBS, models: [ZCIT_T2_YSU, ZCIT_T2_QNSE, ZCIT_T2_MYNN, ZCIT_T2_ACM2] },
  ],
  [
    { obs: SECO_Q2_OBS, models: [SECO_Q2_YSU, SECO_Q2_QNSE, SECO_Q2_MYNN, SECO_Q2_ACM2] },
    { obs: VCAN_Q2_OBS, models: [VCAN_Q2_YSU, VCAN_Q2_QNSE, VCAN_Q2_MYNN, VCAN_Q2_ACM2] },
    { obs: ZCIT_Q2_OBS, models: [ZCIT_Q2_YSU, ZCIT_Q2_QNSE, ZCIT_Q2_MYNN, ZCIT_Q2_ACM2] },
  ],
  [
    { obs: SECO_U10_OBS, models: [SECO_U10_YSU, SECO_U10_QNSE, SECO_U10_MYNN, SECO_U10_ACM2] },
    { obs: VCAN_U10_OBS, models: [VCAN_U10_YSU, VCAN_U10_QNSE, VCAN_U10_MYNN, VCAN_U10_ACM2] },
    { obs: ZCIT_U10_OBS, models: [ZCIT_U10_YSU, ZCIT_U10_QNSE, ZCIT_U10_MYNN, ZCIT_U10_ACM2] },
  ],
  [
    { obs: SECO_V10_OBS, models: [SECO_V10_YSU, SECO_V10_QNSE, SECO_V10_MYNN, SECO_V10_ACM2] },
    { obs: VCAN_V10_OBS, models: [VCAN_V10_YSU, VCAN_V10_QNSE, VCAN_V10_MYNN, VCAN_V10_ACM2] },
    { obs: ZCIT_V10_OBS, models: [ZCIT_V10_YSU, ZCIT_V10_QNSE, ZCIT_V10_MYNN, ZCIT_V10_ACM2] },
  ],
];
const ROW_TICKS = [T2_TICKS, Q2_TICKS, U10_TICKS, V10_TICKS];
const ROW_MIN = [15, 10, -8, -8];
const ROW_MAX = [40, 25, 2, 4];

// -------------- layout / style --------------
const FIG_W = 3033, FIG_H = 1696;
const COL_X = [234, 1031, 1828];
const ROW_Y = [107, 485, 862, 1240];
const PW = 665, PH = 327;
const Y_AXIS_W = 234, PAD_R = 60, PAD_T = 60, PAD_B = 60, X_AXIS_H = 100;
const FONT = "'DejaVu Sans', sans-serif";
const TICK_FONT_PX = 53;
const LINE_W = 4.5;
const DOT_R = 7.2;
const GRID_W = 2.4;
const GRID_DASH = [4.4, 8.8];
const TICK_LEN = 17;
const TICK_W = 3;
const FRAME_W = 3.6;
const TITLE_Y = 66;
const XTITLE_Y = 1671;
const YLABEL_X = 87;
const LEG = { x: 2517, y: 361, w: 475, h: 564, first: 63, step: 107.25, mk0: 47, mk1: 158, text: 234, font: 72 };

function fmtNum(v: number) {
  return v < 0 ? "\u2212" + Math.abs(v) : String(v);
}

const frameTicks = {
  id: "frameTicks",
  afterDatasetsDraw(chart: any) {
    const { ctx, chartArea: a } = chart;
    const xs = chart.scales.x, ys = chart.scales.y;
    ctx.save();
    ctx.strokeStyle = "#000";
    ctx.lineWidth = TICK_W;
    ctx.beginPath();
    xs.ticks.forEach((t: any) => {
      const p = xs.getPixelForValue(t.value);
      ctx.moveTo(p, a.bottom); ctx.lineTo(p, a.bottom - TICK_LEN);
      ctx.moveTo(p, a.top); ctx.lineTo(p, a.top + TICK_LEN);
    });
    ys.ticks.forEach((t: any) => {
      const p = ys.getPixelForValue(t.value);
      ctx.moveTo(a.left, p); ctx.lineTo(a.left + TICK_LEN, p);
      ctx.moveTo(a.right, p); ctx.lineTo(a.right - TICK_LEN, p);
    });
    ctx.stroke();
    ctx.lineWidth = FRAME_W;
    ctx.strokeRect(a.left, a.top, a.right - a.left, a.bottom - a.top);
    ctx.restore();
  },
};

function Panel({ r, c }: { r: number; c: number }) {
  const ref = useRef<HTMLCanvasElement>(null);
  const w = Y_AXIS_W + PW + PAD_R;
  const h = PAD_T + PH + (r === 3 ? X_AXIS_H : 0) + PAD_B;
  useEffect(() => {
    const pd = PANELS[r][c];
    const datasets: any[] = [
      {
        label: SERIES_NAMES[0],
        data: OBS_HOURS.map((x, i) => ({ x, y: pd.obs[i] })),
        showLine: false,
        pointRadius: DOT_R,
        pointHoverRadius: DOT_R,
        pointBackgroundColor: SERIES_COLORS[0],
        pointBorderWidth: 0,
        borderColor: SERIES_COLORS[0],
        backgroundColor: SERIES_COLORS[0],
        order: 5,
      },
      ...pd.models.map((m, k) => ({
        label: SERIES_NAMES[k + 1],
        data: m.map(([x, y]) => ({ x, y })),
        showLine: true,
        borderColor: SERIES_COLORS[k + 1],
        backgroundColor: SERIES_COLORS[k + 1],
        borderWidth: LINE_W,
        pointRadius: 0,
        pointHoverRadius: 0,
        tension: 0,
        fill: false,
        borderJoinStyle: "round",
        order: 4 - k,
      })),
    ];
    const chart = new Chart(ref.current!, {
      type: "scatter",
      data: { datasets },
      plugins: [frameTicks],
      options: {
        animation: false,
        responsive: false,
        events: [],
        layout: { padding: { left: 0, right: PAD_R, top: PAD_T, bottom: PAD_B } },
        plugins: { legend: { display: false }, tooltip: { enabled: false } },
        scales: {
          x: {
            type: "linear",
            min: 0,
            max: 24,
            position: "bottom",
            afterBuildTicks: (s: any) => { s.ticks = X_TICKS.map((v) => ({ value: v })); },
            afterFit: (s: any) => { s.height = r === 3 ? X_AXIS_H : 0; },
            ticks: {
              display: r === 3,
              stepSize: 3,
              autoSkip: false,
              maxRotation: 0,
              padding: 9,
              color: "#000",
              font: { family: FONT, size: TICK_FONT_PX },
              callback: (v: any) => X_TICK_LABELS[X_TICKS.indexOf(Number(v))],
            },
            grid: { color: "#000", lineWidth: GRID_W, drawTicks: false },
            border: { display: false, dash: GRID_DASH },
          },
          y: {
            type: "linear",
            min: ROW_MIN[r],
            max: ROW_MAX[r],
            afterBuildTicks: (s: any) => { s.ticks = ROW_TICKS[r].map((v) => ({ value: v })); },
            afterFit: (s: any) => { s.width = Y_AXIS_W; },
            ticks: {
              display: c === 0,
              stepSize: 1,
              autoSkip: false,
              padding: 17,
              color: "#000",
              font: { family: FONT, size: TICK_FONT_PX },
              callback: (v: any) => fmtNum(Number(v)),
            },
            grid: { color: "#000", lineWidth: GRID_W, drawTicks: false },
            border: { display: false, dash: GRID_DASH },
          },
        },
      } as any,
    });
    return () => chart.destroy();
  }, [r, c]);
  return (
    <canvas
      ref={ref}
      width={w}
      height={h}
      style={{ position: "absolute", left: COL_X[c] - Y_AXIS_W, top: ROW_Y[r] - PAD_T, width: w, height: h }}
    />
  );
}

function VarLabel({ r }: { r: number }) {
  const parts = VAR_UNITS[r].split("/");
  return (
    <span>
      <i>{VAR_SYMBOLS[r]}</i>
      <span style={{ fontSize: "0.7em", position: "relative", top: "0.28em" }}>{VAR_SUBS[r]}</span>
      [
      {parts.map((p, i) => (
        <React.Fragment key={i}>
          {i > 0 ? "/" : ""}
          <i>{p}</i>
        </React.Fragment>
      ))}
      ]
    </span>
  );
}

export default function App() {
  const cells: JSX.Element[] = [];
  for (let r = 0; r < 4; r++) for (let c = 0; c < 3; c++) cells.push(<Panel key={`${r}-${c}`} r={r} c={c} />);
  return (
    <div style={{ position: "absolute", left: 0, top: 0, width: FIG_W, height: FIG_H, background: "#fff", overflow: "hidden" }}>
      {cells}
      {CASE_TITLES.map((t, c) => (
        <div key={t} style={{ position: "absolute", left: COL_X[c], width: PW, top: TITLE_Y - 35, height: 70, lineHeight: "70px", textAlign: "center", fontFamily: FONT, fontSize: TICK_FONT_PX, color: "#000", whiteSpace: "nowrap" }}>{t}</div>
      ))}
      {CASE_TITLES.map((t, c) => (
        <div key={"x" + t} style={{ position: "absolute", left: COL_X[c], width: PW, top: XTITLE_Y - 35, height: 70, lineHeight: "70px", textAlign: "center", fontFamily: FONT, fontSize: TICK_FONT_PX, color: "#000", whiteSpace: "nowrap" }}>{X_TITLE}</div>
      ))}
      {VAR_SYMBOLS.map((s, r) => (
        <div key={"y" + r} style={{ position: "absolute", left: YLABEL_X, top: ROW_Y[r] + PH / 2, transform: "translate(-50%, -50%) rotate(-90deg)", fontFamily: "'Liberation Serif', serif", fontSize: 62, whiteSpace: "nowrap", color: "#000", lineHeight: 1 }}>
          <VarLabel r={r} />
        </div>
      ))}
      <div style={{ position: "absolute", left: LEG.x, top: LEG.y, width: LEG.w, height: LEG.h, border: "3.5px solid #000", boxSizing: "border-box", background: "#fff" }}>
        {SERIES_NAMES.map((name, i) => {
          const cy = LEG.first + LEG.step * i;
          return (
            <React.Fragment key={name}>
              {i === 0 ? (
                <>
                  <div style={{ position: "absolute", left: LEG.mk0 + 4 - DOT_R, top: cy - DOT_R, width: DOT_R * 2, height: DOT_R * 2, borderRadius: "50%", background: SERIES_COLORS[0] }} />
                  <div style={{ position: "absolute", left: LEG.mk1 - 4 - DOT_R, top: cy - DOT_R, width: DOT_R * 2, height: DOT_R * 2, borderRadius: "50%", background: SERIES_COLORS[0] }} />
                </>
              ) : (
                <div style={{ position: "absolute", left: LEG.mk0, top: cy - LINE_W / 2, width: LEG.mk1 - LEG.mk0, height: LINE_W, background: SERIES_COLORS[i] }} />
              )}
              <div style={{ position: "absolute", left: LEG.text, top: cy - 50, height: 100, lineHeight: "100px", fontFamily: FONT, fontSize: LEG.font, color: "#000", whiteSpace: "nowrap" }}>{name}</div>
            </React.Fragment>
          );
        })}
      </div>
    </div>
  );
}
